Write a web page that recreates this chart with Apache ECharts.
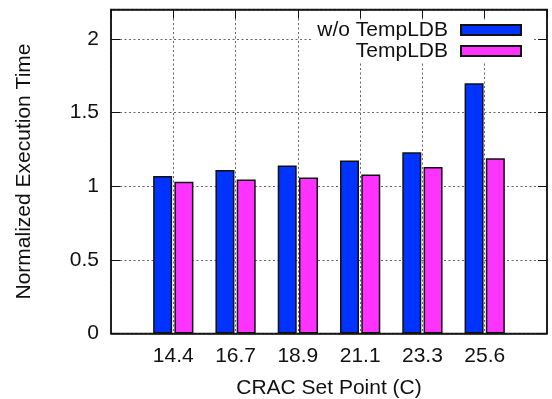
<!DOCTYPE html>
<html>
<head>
<meta charset="utf-8">
<script src="https://cdn.jsdelivr.net/npm/echarts@6/dist/echarts.min.js"></script>
<style>html,body{margin:0;padding:0;background:#fff}#c{width:552px;height:399px}</style>
</head>
<body>
<div id="c"></div>
<script>
const categories = ['', '14.4', '16.7', '18.9', '21.1', '23.3', '25.6', ''];
const withoutTempLDB = [null, 1.07, 1.11, 1.14, 1.175, 1.23, 1.70, null];
const withTempLDB = [null, 1.03, 1.045, 1.06, 1.08, 1.13, 1.19, null];
const seriesNames = ['w/o TempLDB', 'TempLDB'];
const yTicks = { min: 0, max: 2.2, interval: 0.5 };

const FONT = "'Liberation Sans', Arial, sans-serif";
const gridLine = { show: true, lineStyle: { color: '#666', width: 1, type: [2, 2.5] } };
const chart = echarts.init(document.getElementById('c'), null, { renderer: 'canvas' });
const legendBase = {
  orient: 'horizontal', align: 'right', right: 19,
  itemWidth: 60, itemHeight: 10, itemGap: 0,
  backgroundColor: '#fff',
  textStyle: { fontFamily: FONT, fontSize: 21, color: '#111', lineHeight: 21, padding: [0, 8, 0, 0] },
  icon: 'rect'
};
chart.setOption({
  animation: false,
  grid: { left: 111, right: 5, top: 9.5, bottom: 65.5, outerBoundsMode: 'none', containLabel: false, show: true, borderColor: '#111', borderWidth: 1.5, backgroundColor: 'transparent' },
  legend: [
    Object.assign({}, legendBase, { top: 19.5, padding: [0, 11, 0, 6], data: [seriesNames[0]] }),
    Object.assign({}, legendBase, { top: 40.5, padding: [0, 11, 0, 6], data: [seriesNames[1]] })
  ],
  xAxis: [{
    type: 'category', data: categories, boundaryGap: false,
    name: 'CRAC Set Point (C)', nameLocation: 'middle', nameGap: 44,
    nameTextStyle: { fontFamily: FONT, fontSize: 21, color: '#111' },
    axisLine: { show: true, onZero: false, lineStyle: { color: '#111', width: 1.5 } },
    axisTick: { show: false },
    axisLabel: { fontFamily: FONT, fontSize: 21, color: '#111', margin: 12, interval: 0 },
    splitLine: gridLine
  }, {
    type: 'category', data: categories, boundaryGap: false, position: 'top',
    axisLine: { show: true, onZero: false, lineStyle: { color: '#111', width: 1.5 } },
    axisTick: { show: true, inside: true, length: 9, lineStyle: { color: '#111' } },
    axisLabel: { show: false }, splitLine: { show: false }
  }],
  yAxis: [{
    type: 'value', min: yTicks.min, max: yTicks.max, interval: yTicks.interval,
    name: 'Normalized Execution Time', nameLocation: 'middle', nameGap: 76,
    nameTextStyle: { fontFamily: FONT, fontSize: 21, color: '#111' },
    axisLine: { show: true, onZero: false, lineStyle: { color: '#111', width: 1.5 } },
    axisTick: { show: true, inside: true, length: 9, lineStyle: { color: '#111' } },
    axisLabel: { fontFamily: FONT, fontSize: 21, color: '#111', margin: 12, showMaxLabel: false },
    splitLine: gridLine
  }, {
    type: 'value', min: yTicks.min, max: yTicks.max, interval: yTicks.interval, position: 'right',
    axisLine: { show: true, onZero: false, lineStyle: { color: '#111', width: 1.5 } },
    axisTick: { show: true, inside: true, length: 9, lineStyle: { color: '#111' } },
    axisLabel: { show: false }, splitLine: { show: false }
  }],
  series: [{
    name: seriesNames[0], type: 'bar', data: withoutTempLDB, barWidth: 19, barGap: '12%',
    itemStyle: { color: '#0033ff', borderColor: '#111', borderWidth: 1.5 }
  }, {
    name: seriesNames[1], type: 'bar', data: withTempLDB, barWidth: 19, barGap: '12%',
    itemStyle: { color: '#ff33ff', borderColor: '#111', borderWidth: 1.5 }
  }]
});
</script>
</body>
</html>
